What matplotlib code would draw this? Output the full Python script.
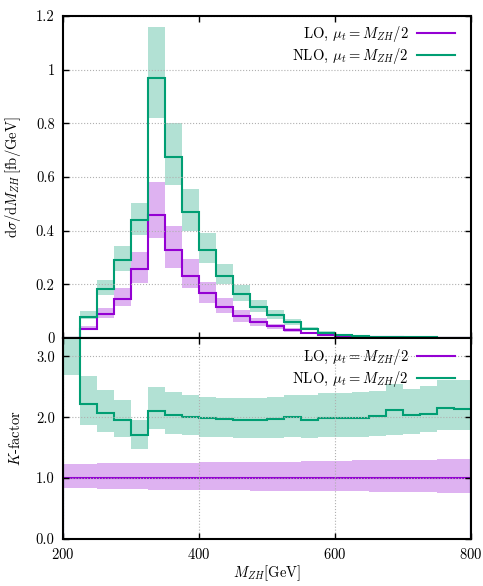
import numpy as np
import matplotlib.pyplot as plt

plt.rcParams['font.family'] = 'serif'
plt.rcParams['font.serif'] = ['cmr10']
plt.rcParams['mathtext.fontset'] = 'cm'
plt.rcParams['axes.formatter.use_mathtext'] = True
plt.rcParams['font.size'] = 10.5

# 25 GeV bins in M_ZH
edges = np.arange(200, 801, 25)

# dsigma/dM_ZH [fb/GeV]
lo = [0.0, 0.034, 0.088, 0.146, 0.256, 0.459, 0.328, 0.232, 0.167, 0.115, 0.082, 0.058,
      0.043, 0.029, 0.017, 0.010, 0.006, 0.004, 0.0028, 0.002, 0.0014, 0.001, 0.0007, 0.0005]
lo_lo = [0.0, 0.030, 0.074, 0.120, 0.206, 0.372, 0.262, 0.185, 0.130, 0.092, 0.061, 0.046,
         0.034, 0.023, 0.014, 0.0085, 0.005, 0.0033, 0.0022, 0.0016, 0.0011, 0.0008, 0.0005, 0.0004]
lo_hi = [0.0, 0.045, 0.111, 0.185, 0.322, 0.583, 0.418, 0.295, 0.210, 0.148, 0.104, 0.073,
         0.054, 0.037, 0.023, 0.014, 0.009, 0.0055, 0.0038, 0.0027, 0.0019, 0.0013, 0.0009, 0.0007]

nlo = [0.0, 0.079, 0.183, 0.290, 0.439, 0.969, 0.673, 0.468, 0.328, 0.232, 0.163, 0.115,
       0.085, 0.058, 0.034, 0.020, 0.012, 0.008, 0.0055, 0.004, 0.003, 0.002, 0.0015, 0.001]
nlo_lo = [0.0, 0.070, 0.160, 0.250, 0.384, 0.820, 0.571, 0.400, 0.279, 0.200, 0.138, 0.098,
          0.072, 0.049, 0.029, 0.017, 0.010, 0.0065, 0.0045, 0.0033, 0.0025, 0.0017, 0.0012, 0.0008]
nlo_hi = [0.0, 0.100, 0.216, 0.344, 0.502, 1.158, 0.800, 0.555, 0.390, 0.275, 0.198, 0.140,
          0.103, 0.071, 0.042, 0.025, 0.015, 0.010, 0.007, 0.0052, 0.004, 0.0027, 0.002, 0.0014]

# K-factor = NLO / LO
k_lo = [1.0, 1.0, 1.0, 1.0, 1.0, 1.0, 1.0, 1.0, 1.0, 1.0, 1.0, 1.0,
        1.0, 1.0, 1.0, 1.0, 1.0, 1.0, 1.0, 1.0, 1.0, 1.0, 1.0, 1.0]
k_lo_dn = [0.83, 0.83, 0.82, 0.82, 0.82, 0.81, 0.81, 0.81, 0.80, 0.80, 0.80, 0.79,
           0.79, 0.79, 0.79, 0.78, 0.78, 0.78, 0.77, 0.77, 0.77, 0.77, 0.76, 0.76]
k_lo_up = [1.23, 1.23, 1.24, 1.24, 1.24, 1.25, 1.25, 1.25, 1.26, 1.26, 1.26, 1.27,
           1.27, 1.27, 1.28, 1.28, 1.28, 1.29, 1.29, 1.29, 1.30, 1.30, 1.31, 1.31]

k_nlo = [3.4, 2.22, 2.07, 1.95, 1.70, 2.10, 2.04, 2.00, 1.98, 1.97, 1.96, 1.96,
         1.97, 2.00, 1.96, 1.98, 1.98, 1.99, 2.02, 2.11, 2.03, 2.06, 2.15, 2.14]
k_nlo_dn = [2.69, 1.87, 1.75, 1.67, 1.48, 1.80, 1.73, 1.70, 1.68, 1.67, 1.66, 1.66,
            1.66, 1.67, 1.66, 1.67, 1.67, 1.68, 1.69, 1.70, 1.72, 1.75, 1.79, 1.79]
k_nlo_up = [3.6, 2.675, 2.44, 2.29, 1.96, 2.49, 2.42, 2.36, 2.33, 2.32, 2.31, 2.32,
            2.33, 2.37, 2.36, 2.40, 2.40, 2.41, 2.43, 2.54, 2.47, 2.52, 2.61, 2.61]

c_lo = '#9400d3'
c_nlo = '#009e73'
lab_lo = r'LO, $\mu_t = M_{ZH}/2$'
lab_nlo = r'NLO, $\mu_t = M_{ZH}/2$'

fig = plt.figure(figsize=(4.83, 5.86), dpi=100)
ax1 = fig.add_axes([0.1304, 0.4232, 0.8448, 0.5495])
ax2 = fig.add_axes([0.1304, 0.0802, 0.8448, 0.3430])

# upper panel: differential distribution
ax1.stairs(lo_hi, edges, baseline=lo_lo, fill=True, color=c_lo, alpha=0.3, lw=0)
ax1.stairs(nlo_hi, edges, baseline=nlo_lo, fill=True, color=c_nlo, alpha=0.3, lw=0)
ax1.stairs(lo, edges, color=c_lo, lw=1.5, label=lab_lo)
ax1.stairs(nlo, edges, color=c_nlo, lw=1.5, label=lab_nlo)
ax1.set_xlim(200, 800)
ax1.set_ylim(0, 1.2)
ax1.set_yticks([0, 0.2, 0.4, 0.6, 0.8, 1.0, 1.2])
ax1.set_yticklabels(['0', '0.2', '0.4', '0.6', '0.8', '1', '1.2'])
ax1.set_xticks([200, 400, 600, 800])
ax1.tick_params(labelbottom=False)
ax1.grid(axis='y', ls=':', color='#b0b0b0', lw=0.8)
ax1.set_ylabel(r'$\mathrm{d}\sigma/\mathrm{d}M_{ZH}\,$[fb/GeV]')
ax1.yaxis.set_label_coords(-0.098, 0.5)

# lower panel: K-factor
ax2.stairs(k_lo_up, edges, baseline=k_lo_dn, fill=True, color=c_lo, alpha=0.3, lw=0)
ax2.stairs(k_nlo_up, edges, baseline=k_nlo_dn, fill=True, color=c_nlo, alpha=0.3, lw=0)
ax2.stairs(k_lo, edges, color=c_lo, lw=1.5, label=lab_lo)
ax2.stairs(k_nlo, edges, color=c_nlo, lw=1.5, label=lab_nlo)
ax2.set_xlim(200, 800)
ax2.set_ylim(0, 3.3)
ax2.set_yticks([0, 1, 2, 3])
ax2.set_yticklabels(['0.0', '1.0', '2.0', '3.0'])
ax2.set_xticks([200, 400, 600, 800])
ax2.grid(ls=':', color='#b0b0b0', lw=0.8)
ax2.set_ylabel(r'$K$-factor')
ax2.yaxis.set_label_coords(-0.098, 0.5)
ax2.set_xlabel(r'$M_{ZH}$[GeV]', labelpad=1)

for ax, top in ((ax1, 0.975), (ax2, 0.955)):
    ax.tick_params(direction='in', top=True, right=True, length=4, width=1, pad=6)
    for s in ax.spines.values():
        s.set_linewidth(1.5)
    ax.legend(loc='upper right', bbox_to_anchor=(0.961, top), frameon=False,
              markerfirst=False, handlelength=2.6, handletextpad=0.6,
              borderaxespad=0, borderpad=0, labelspacing=0.15)

fig.savefig('out.png', dpi=100)
